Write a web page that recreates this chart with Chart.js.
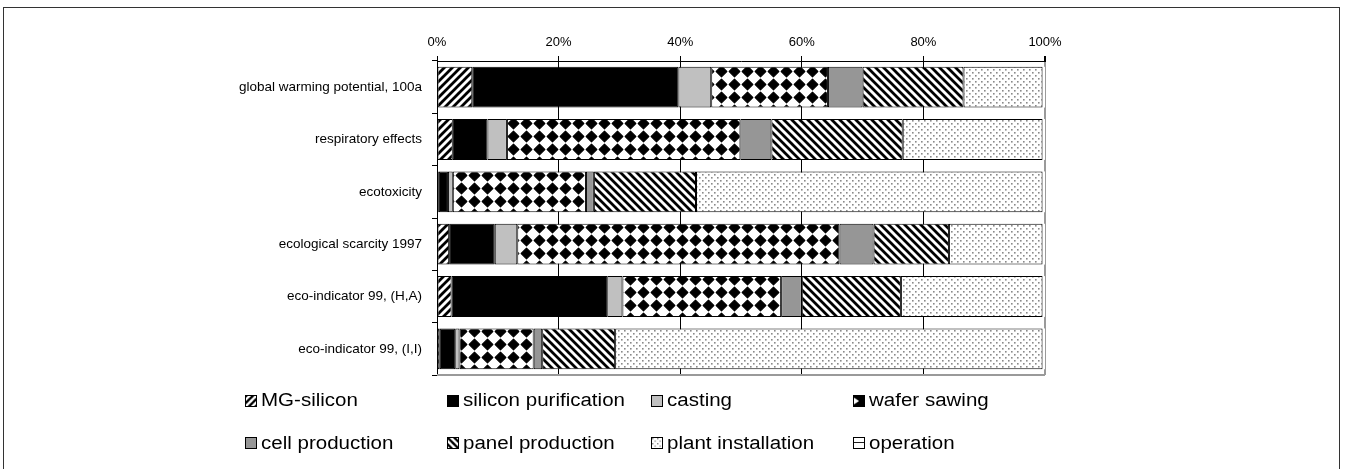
<!DOCTYPE html>
<html>
<head>
<meta charset="utf-8">
<script src="https://cdn.jsdelivr.net/npm/chart.js@4/dist/chart.umd.min.js"></script>
<style>
  html,body{margin:0;padding:0;background:#fff;}
  #wrap{position:relative;width:1347px;height:469px;overflow:hidden;font-family:"Liberation Sans",Arial,sans-serif;}
  #frame{position:absolute;left:3px;top:7px;width:1337px;height:480px;border:1px solid #333;box-sizing:border-box;}
  #c{position:absolute;left:0;top:0;}
  .lg{position:absolute;height:24px;display:flex;align-items:center;white-space:nowrap;}
  .lg canvas{width:12px;height:12px;border:1px solid #000;box-sizing:border-box;display:block;}
  .lg span{display:inline-block;font-size:18px;color:#000;transform:scaleX(1.14);transform-origin:left center;margin-left:4px;}
</style>
</head>
<body>
<div id="wrap">
  <div id="frame"></div>
  <canvas id="c" width="1347" height="469"></canvas>
  <div id="legend"></div>
</div>
<script>
const categories = ["global warming potential, 100a","respiratory effects","ecotoxicity","ecological scarcity 1997","eco-indicator 99, (H,A)","eco-indicator 99, (I,I)"];
const seriesNames = ["MG-silicon","silicon purification","casting","wafer sawing","cell production","panel production","plant installation","operation"];
const mgSilicon          = [5.8, 2.6, 0.3, 2.0, 2.4, 0.45];
const siliconPurification= [33.9, 5.7, 1.5, 7.5, 25.6, 2.55];
const casting            = [5.4, 3.2, 0.8, 3.7, 2.5, 0.7];
const waferSawing        = [19.2, 38.4, 21.9, 53.0, 26.1, 12.2];
const cellProduction     = [5.7, 5.1, 1.3, 5.6, 3.4, 1.4];
const panelProduction    = [16.6, 21.6, 16.8, 12.4, 16.3, 12.0];
const plantInstallation  = [13.0, 23.0, 57.0, 15.4, 23.3, 70.3];
const operation          = [0.4, 0.4, 0.4, 0.4, 0.4, 0.4];
const xTicks = [0, 20, 40, 60, 80, 100];

const canvas = document.getElementById('c');
const ctx = canvas.getContext('2d');

function makeTile(w, h, draw) {
  const c = document.createElement('canvas');
  c.width = w; c.height = h;
  const g = c.getContext('2d');
  g.fillStyle = '#fff'; g.fillRect(0, 0, w, h);
  draw(g, w, h);
  return c;
}
const tileFwd = makeTile(8, 8, (g, w, h) => {
  g.strokeStyle = '#000'; g.lineWidth = 2.8; g.beginPath();
  g.moveTo(0, h); g.lineTo(w, 0);
  g.moveTo(-w/2, h/2); g.lineTo(w/2, -h/2);
  g.moveTo(w/2, h*1.5); g.lineTo(w*1.5, h/2);
  g.stroke();
});
const tileBack = makeTile(8, 8, (g, w, h) => {
  g.strokeStyle = '#000'; g.lineWidth = 2.8; g.beginPath();
  g.moveTo(0, 0); g.lineTo(w, h);
  g.moveTo(-w/2, h/2); g.lineTo(w/2, h*1.5);
  g.moveTo(w/2, -h/2); g.lineTo(w*1.5, h/2);
  g.stroke();
});
const tileDiamond = makeTile(13, 13, (g) => {
  g.fillStyle = '#000'; g.strokeStyle = '#000'; g.lineJoin = 'round'; g.lineWidth = 1.2;
  g.beginPath();
  g.moveTo(6.5, 1.2); g.lineTo(11.8, 6.5); g.lineTo(6.5, 11.8); g.lineTo(1.2, 6.5);
  g.closePath(); g.fill(); g.stroke();
});
const tileDots = makeTile(6, 6, (g) => {
  g.fillStyle = '#8a8a8a';
  g.fillRect(0, 0, 1.6, 1.6); g.fillRect(3, 3, 1.6, 1.6);
});
const tileHoriz = makeTile(12, 12, (g) => {
  g.fillStyle = '#000'; g.fillRect(0, 5, 12, 1);
});
const tileWaferIcon = makeTile(12, 12, (g) => {
  g.fillStyle = '#000'; g.fillRect(0, 0, 12, 12);
  g.fillStyle = '#fff'; g.beginPath();
  g.moveTo(0, 2); g.lineTo(6, 6); g.lineTo(0, 10); g.closePath(); g.fill();
});
const tileSolid = (col) => makeTile(4, 4, (g) => { g.fillStyle = col; g.fillRect(0, 0, 4, 4); });

const iconTiles = [tileFwd, tileSolid('#000'), tileSolid('#c0c0c0'), tileWaferIcon, tileSolid('#969696'), tileBack, tileDots, tileHoriz];
const fills = [
  ctx.createPattern(tileFwd, 'repeat'),
  '#000000',
  '#c0c0c0',
  ctx.createPattern(tileDiamond, 'repeat'),
  '#969696',
  ctx.createPattern(tileBack, 'repeat'),
  ctx.createPattern(tileDots, 'repeat'),
  '#ffffff'
];
const seriesData = [mgSilicon, siliconPurification, casting, waferSawing, cellProduction, panelProduction, plantInstallation, operation];

const datasets = seriesNames.map((name, i) => ({
  label: name,
  data: seriesData[i],
  backgroundColor: fills[i],
  borderColor: '#000',
  borderWidth: i === 7 ? 0 : 1,
  borderSkipped: false,
  barPercentage: 0.78,
  categoryPercentage: 1.0
}));

const framePlugin = {
  id: 'frameLines',
  beforeDatasetsDraw(chart) {
    const a = chart.chartArea, g = chart.ctx;
    g.save();
    g.strokeStyle = '#9a9a9a'; g.lineWidth = 2;
    g.beginPath();
    g.moveTo(a.left, a.bottom); g.lineTo(a.right, a.bottom);
    g.stroke();
    g.restore();
  }
};

new Chart(ctx, {
  type: 'bar',
  data: { labels: categories, datasets },
  options: {
    indexAxis: 'y',
    responsive: false,
    animation: false,
    devicePixelRatio: 1,
    layout: { padding: { left: 0, right: 302, top: 0, bottom: 94 } },
    plugins: { legend: { display: false }, tooltip: { enabled: false } },
    scales: {
      x: {
        position: 'top',
        stacked: true,
        min: 0, max: 100,
        afterFit(s) { s.height = 61; },
        afterBuildTicks(s) { s.ticks = xTicks.map(v => ({ value: v })); },
        ticks: {
          callback: v => v + '%',
          color: '#000',
          padding: 6,
          maxRotation: 0,
          font: { family: '"Liberation Sans", Arial, sans-serif', size: 13 }
        },
        grid: {
          color: c => (c.tick && c.tick.value === 100) ? '#9a9a9a' : '#000',
          lineWidth: c => (c.tick && c.tick.value === 100) ? 2 : 1,
          tickColor: '#000',
          tickLength: 5,
          drawOnChartArea: true
        },
        border: { display: true, color: '#000', width: 1 }
      },
      y: {
        stacked: true,
        afterFit(s) { s.width = 437; },
        ticks: {
          color: '#000',
          padding: 10,
          font: { family: '"Liberation Sans", Arial, sans-serif', size: 13.5 }
        },
        grid: {
          offset: true,
          drawOnChartArea: false,
          drawTicks: true,
          tickLength: 5,
          color: '#000',
          tickColor: '#000'
        },
        border: { display: true, color: '#000', width: 1 }
      }
    }
  },
  plugins: [framePlugin]
});

// HTML legend
const cols = [245, 446.7, 651, 853.3];
const rows = [400.7, 443.3];
const legend = document.getElementById('legend');
seriesNames.forEach((name, i) => {
  const item = document.createElement('div');
  item.className = 'lg';
  item.style.left = cols[i % 4] + 'px';
  item.style.top = (rows[Math.floor(i / 4)] - 12) + 'px';
  const ic = document.createElement('canvas');
  ic.width = 12; ic.height = 12;
  const g = ic.getContext('2d');
  g.fillStyle = g.createPattern(iconTiles[i], 'repeat');
  g.fillRect(0, 0, 12, 12);
  const sp = document.createElement('span');
  sp.textContent = name;
  item.appendChild(ic); item.appendChild(sp);
  legend.appendChild(item);
});
</script>
</body>
</html>
